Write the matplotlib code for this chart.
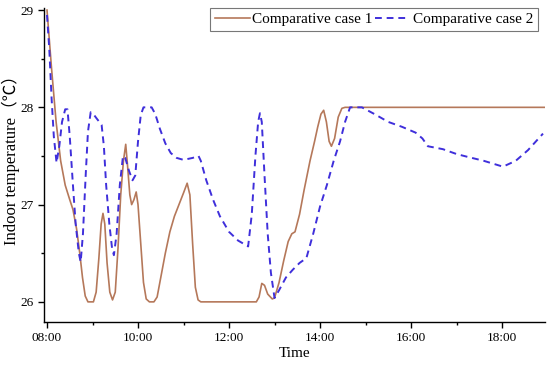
import matplotlib
matplotlib.use("Agg")
import matplotlib.pyplot as plt
from matplotlib.ticker import MultipleLocator, FuncFormatter

plt.rcParams['font.family'] = ['Liberation Serif', 'Noto Sans CJK SC', 'DejaVu Sans']

# Time in hours, indoor temperature (°C)
case1_t = [8.00, 8.10, 8.20, 8.30, 8.40, 8.50, 8.57, 8.65, 8.72, 8.78, 8.84, 8.90, 9.02, 9.08,
           9.14, 9.19, 9.23, 9.27, 9.32, 9.38, 9.44, 9.50, 9.56, 9.62, 9.68, 9.73, 9.77, 9.82,
           9.86, 9.91, 9.96, 10.00, 10.06, 10.12, 10.18, 10.25, 10.35, 10.42, 10.50, 10.60,
           10.70, 10.80, 10.90, 11.00, 11.08, 11.14, 11.20, 11.26, 11.32, 11.38, 12.60, 12.66,
           12.72, 12.78, 12.85, 12.95, 13.00, 13.10, 13.20, 13.30, 13.38, 13.45, 13.55, 13.65,
           13.78, 13.88, 13.95, 14.02, 14.08, 14.14, 14.20, 14.25, 14.32, 14.40, 14.48, 14.55,
           18.95]
case1_T = [29.00, 28.40, 27.85, 27.45, 27.20, 27.05, 26.95, 26.75, 26.50, 26.25, 26.06, 26.00, 26.00, 26.10,
           26.45, 26.80, 26.91, 26.80, 26.40, 26.10, 26.02, 26.10, 26.55, 27.10, 27.45, 27.62, 27.40, 27.10,
           27.00, 27.05, 27.13, 27.00, 26.60, 26.20, 26.03, 26.00, 26.00, 26.05, 26.25, 26.50,
           26.72, 26.88, 27.00, 27.12, 27.22, 27.10, 26.60, 26.15, 26.02, 26.00, 26.00, 26.05,
           26.19, 26.17, 26.08, 26.03, 26.04, 26.20, 26.42, 26.62, 26.70, 26.72, 26.90, 27.15,
           27.45, 27.65, 27.80, 27.93, 27.97, 27.85, 27.65, 27.60, 27.68, 27.90, 27.99, 28.00,
           28.00]

case2_t = [8.00, 8.05, 8.10, 8.15, 8.21, 8.27, 8.33, 8.40, 8.45, 8.50, 8.57, 8.63, 8.70, 8.74,
           8.79, 8.85, 8.90, 8.96, 9.02, 9.10, 9.20, 9.25, 9.30, 9.37, 9.43, 9.47, 9.53, 9.60,
           9.67, 9.72, 9.80, 9.88, 9.94, 10.00, 10.06, 10.12, 10.30, 10.38, 10.48, 10.60, 10.72,
           10.85, 11.00, 11.20, 11.33, 11.38, 11.50, 11.65, 11.80, 12.00, 12.20, 12.42, 12.50,
           12.58, 12.64, 12.68, 12.72, 12.78, 12.85, 12.92, 13.00, 13.10, 13.25, 13.40, 13.55,
           13.70, 13.85, 14.00, 14.15, 14.30, 14.44, 14.55, 14.66, 14.92, 15.20, 15.50, 15.80,
           16.10, 16.25, 16.37, 16.70, 17.00, 17.25, 17.60, 18.02, 18.30, 18.57, 18.90]
case2_T = [28.95, 28.60, 28.10, 27.70, 27.43, 27.60, 27.85, 27.98, 27.98, 27.70, 27.20, 26.80, 26.50, 26.41,
           26.70, 27.30, 27.75, 27.95, 27.93, 27.88, 27.82, 27.60, 27.20, 26.80, 26.55, 26.48, 26.70, 27.20,
           27.50, 27.48, 27.35, 27.25, 27.30, 27.65, 27.92, 28.00, 28.00, 27.93, 27.78, 27.63, 27.53,
           27.48, 27.46, 27.48, 27.50, 27.45, 27.25, 27.05, 26.88, 26.72, 26.63, 26.57, 26.90,
           27.50, 27.85, 27.94, 27.85, 27.30, 26.70, 26.30, 26.04, 26.12, 26.25, 26.33, 26.40,
           26.45, 26.70, 26.98, 27.20, 27.45, 27.65, 27.85, 28.00, 28.00, 27.93, 27.85, 27.80,
           27.74, 27.68, 27.60, 27.57, 27.52, 27.49, 27.45, 27.39, 27.45, 27.56, 27.73]

labels = ["Comparative case 1", "Comparative case 2"]

fig = plt.figure(figsize=(5.5, 3.7), dpi=100)
ax = fig.add_axes([0.08, 0.13, 0.911, 0.848])

ax.plot(case1_t, case1_T, color="#B5785A", lw=1.2, label=labels[0])
ax.plot(case2_t, case2_T, color="#3F2FDB", lw=1.4, ls=(0, (3.5, 2.5)), label=labels[1])

ax.set_xlim(7.934, 18.945)
ax.set_ylim(25.794, 29.02)
ax.xaxis.set_major_locator(MultipleLocator(2))
ax.xaxis.set_minor_locator(MultipleLocator(1))
ax.yaxis.set_major_locator(MultipleLocator(1))
ax.yaxis.set_minor_locator(MultipleLocator(0.5))
ax.xaxis.set_major_formatter(FuncFormatter(lambda v, p: f"{int(round(v)):02d}:00"))
ax.yaxis.set_major_formatter(FuncFormatter(lambda v, p: f"{int(round(v))}"))

for s in ["top", "right"]:
    ax.spines[s].set_visible(False)
ax.spines["left"].set_linewidth(1.0)
ax.spines["bottom"].set_linewidth(1.0)
ax.tick_params(axis="both", which="major", direction="out", length=4, width=1, labelsize=9.5)
ax.tick_params(axis="both", which="minor", direction="out", length=2.5, width=1)

ax.set_xlabel("Time", fontsize=11, labelpad=2)
ax.set_ylabel("Indoor temperature（℃）", fontsize=12)
ax.yaxis.set_label_coords(-0.048, 0.53)

leg = ax.legend(loc="upper right", ncol=2, fontsize=11, frameon=True, fancybox=False,
                edgecolor="#555555", handlelength=2.3, handletextpad=0.15, columnspacing=0.15,
                borderpad=0.3, borderaxespad=0.0, bbox_to_anchor=(0.985, 1.0))
leg.get_frame().set_linewidth(0.8)

fig.savefig("out.png", dpi=100)
